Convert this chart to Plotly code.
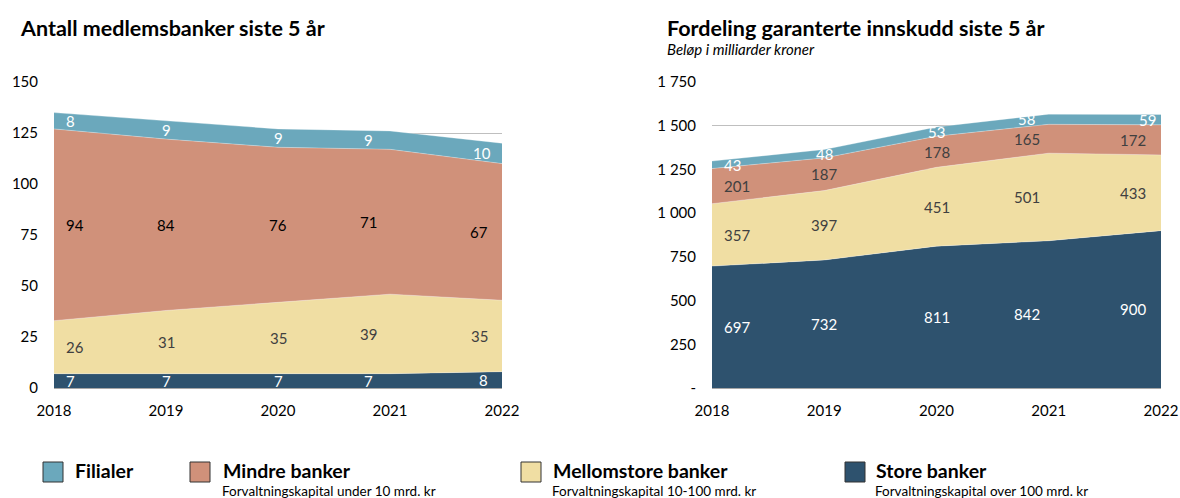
import numpy as np
import plotly.graph_objects as go

years = [2018, 2019, 2020, 2021, 2022]
series_names = ["Store banker", "Mellomstore banker", "Mindre banker", "Filialer"]
series_colors = ["#2E526E", "#F0DEA3", "#D0917A", "#6BA8BC"]

antall_store = [7, 7, 7, 7, 8]
antall_mellom = [26, 31, 35, 39, 35]
antall_mindre = [94, 84, 76, 71, 67]
antall_filialer = [8, 9, 9, 9, 10]

innskudd_store = [697, 732, 811, 842, 900]
innskudd_mellom = [357, 397, 451, 501, 433]
innskudd_mindre = [201, 187, 178, 165, 172]
innskudd_filialer = [43, 48, 53, 58, 59]

left_yticks = [0, 25, 50, 75, 100, 125, 150]
right_yticks = [0, 250, 500, 750, 1000, 1250, 1500, 1750]
right_yticklabels = ["-", "250", "500", "750", "1 000", "1 250", "1 500", "1 750"]

legend_order = ["Filialer", "Mindre banker", "Mellomstore banker", "Store banker"]
legend_subtitles = ["", "Forvaltningskapital under 10 mrd. kr",
                    "Forvaltningskapital 10-100 mrd. kr",
                    "Forvaltningskapital over 100 mrd. kr"]

title_left = "Antall medlemsbanker siste 5 år"
title_right = "Fordeling garanterte innskudd siste 5 år"
subtitle_right = "Beløp i milliarder kroner"

# body margin is removed by a post script, so the figure fills the window
OFF = 0
W, H = 1180, 498
FONT = "Lato"

def px(x):
    return (x - OFF) / W

def py(y):
    return 1 - (y - OFF) / H

fig = go.Figure()

left_data = [antall_store, antall_mellom, antall_mindre, antall_filialer]
right_data = [innskudd_store, innskudd_mellom, innskudd_mindre, innskudd_filialer]

label_colors_left = ["white", "#404040", "#000000", "white"]
label_colors_right = ["white", "#404040", "#404040", "white"]

for data, xa, ya, grp in [(left_data, "x", "y", "L"), (right_data, "x2", "y2", "R")]:
    for name, vals, col in zip(series_names, data, series_colors):
        fig.add_trace(go.Scatter(
            x=years, y=vals, name=name, stackgroup=grp, mode="lines",
            line=dict(width=0.6, color="rgba(255,255,255,0.5)"), fillcolor=col,
            xaxis=xa, yaxis=ya, showlegend=False, hoverinfo="skip"))

annotations = []

def add_labels(data, xa, ya, colors, xshifts_last):
    base = np.zeros(len(years))
    anchors = ["left", "center", "center", "center", "right"]
    for si, vals in enumerate(data):
        v = np.array(vals, dtype=float)
        centers = base + v / 2
        for i, yr in enumerate(years):
            shifts = [10, 0, 0, -22, xshifts_last[si]]
            annotations.append(dict(
                x=yr, y=centers[i], xref=xa, yref=ya, text=str(vals[i]),
                showarrow=False, xanchor=anchors[i], yanchor="middle",
                xshift=shifts[i], font=dict(family=FONT, size=15, color=colors[si])))
        base = base + v

add_labels(left_data, "x", "y", label_colors_left, [-12, -12, -12, -9])
add_labels(right_data, "x2", "y2", label_colors_right, [-13, -13, -13, -3])

# Titles
annotations.append(dict(x=px(18), y=py(28), xref="paper", yref="paper", text=f"<b>{title_left}</b>",
                        showarrow=False, xanchor="left", yanchor="middle",
                        font=dict(family=FONT, size=21.5, color="#000000")))
annotations.append(dict(x=px(665), y=py(28), xref="paper", yref="paper", text=f"<b>{title_right}</b>",
                        showarrow=False, xanchor="left", yanchor="middle",
                        font=dict(family=FONT, size=21.5, color="#000000")))
annotations.append(dict(x=px(666), y=py(49), xref="paper", yref="paper", text=f"<i>{subtitle_right}</i>",
                        showarrow=False, xanchor="left", yanchor="middle", borderpad=0,
                        font=dict(family=FONT, size=15, color="#000000")))

# Legend (manual)
color_map = dict(zip(series_names, series_colors))
sq_x = [43, 190, 521, 845]
txt_x = [73, 221, 551, 874]
shapes = []
for name, sub, sx, tx in zip(legend_order, legend_subtitles, sq_x, txt_x):
    shapes.append(dict(type="rect", xref="paper", yref="paper",
                       x0=px(sx), x1=px(sx + 20), y0=py(482), y1=py(462),
                       fillcolor=color_map[name], line=dict(color="#333333", width=1)))
    annotations.append(dict(x=px(tx), y=py(470), xref="paper", yref="paper", text=f"<b>{name}</b>",
                            showarrow=False, xanchor="left", yanchor="middle",
                            font=dict(family=FONT, size=19.5, color="#000000")))
    if sub:
        annotations.append(dict(x=px(tx), y=py(491), xref="paper", yref="paper", text=sub,
                                showarrow=False, xanchor="left", yanchor="middle", borderpad=0,
                                font=dict(family=FONT, size=13.5, color="#000000")))

axis_common_x = dict(range=[2018, 2022], tickvals=years, ticktext=[str(y) for y in years],
                     showgrid=False, zeroline=False, showline=True, linecolor="#A6A6A6", linewidth=1,
                     ticks="", ticklabelstandoff=9, tickfont=dict(family=FONT, size=15, color="#000000"),
                     fixedrange=True, automargin=False)
axis_common_y = dict(showgrid=True, gridcolor="#BFBFBF", gridwidth=1, zeroline=False, showline=False,
                     ticks="", ticklabelstandoff=15, tickfont=dict(family=FONT, size=15, color="#000000"),
                     fixedrange=True, automargin=False)

fig.update_layout(
    width=W, height=H, margin=dict(l=0, r=0, t=0, b=0, autoexpand=False),
    paper_bgcolor="white", plot_bgcolor="white",
    xaxis=dict(domain=[px(54), px(502)], anchor="y", **axis_common_x),
    yaxis=dict(domain=[py(388), py(82)], anchor="x", range=[0, 150], tickvals=left_yticks, **axis_common_y),
    xaxis2=dict(domain=[px(712), px(1161)], anchor="y2", **axis_common_x),
    yaxis2=dict(domain=[py(388), py(82)], anchor="x2", range=[0, 1750], tickvals=right_yticks,
                ticktext=right_yticklabels, **axis_common_y),
    annotations=annotations, shapes=shapes, showlegend=False,
)

fig.write_html("out.html", config={"displayModeBar": False},
               post_script="document.body.style.margin='0';document.body.style.overflow='hidden';")
